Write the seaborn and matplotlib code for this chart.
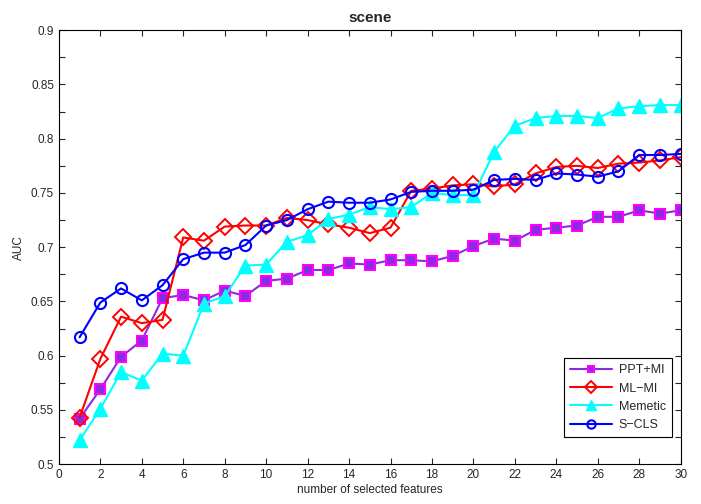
import numpy as np
import pandas as pd
import matplotlib
matplotlib.use("Agg")
import matplotlib.pyplot as plt
from matplotlib.ticker import MultipleLocator
import seaborn as sns

features = list(range(1, 31))
ppt_mi = [0.542, 0.569, 0.599, 0.614, 0.653, 0.656, 0.651, 0.660, 0.655, 0.669,
          0.671, 0.679, 0.679, 0.685, 0.684, 0.688, 0.688, 0.687, 0.692, 0.701,
          0.708, 0.706, 0.716, 0.718, 0.720, 0.728, 0.728, 0.734, 0.731, 0.734]
ml_mi = [0.543, 0.597, 0.636, 0.630, 0.633, 0.709, 0.706, 0.719, 0.720, 0.720,
         0.727, 0.725, 0.721, 0.718, 0.713, 0.718, 0.752, 0.754, 0.757, 0.758,
         0.756, 0.758, 0.768, 0.774, 0.775, 0.773, 0.777, 0.778, 0.780, 0.783]
memetic = [0.522, 0.551, 0.585, 0.577, 0.602, 0.600, 0.648, 0.655, 0.683, 0.684,
           0.705, 0.711, 0.726, 0.730, 0.737, 0.735, 0.737, 0.750, 0.748, 0.748,
           0.788, 0.812, 0.819, 0.821, 0.821, 0.819, 0.828, 0.830, 0.831, 0.831]
s_cls = [0.617, 0.649, 0.662, 0.651, 0.665, 0.689, 0.695, 0.695, 0.702, 0.720,
         0.725, 0.735, 0.742, 0.741, 0.741, 0.744, 0.751, 0.752, 0.752, 0.753,
         0.762, 0.763, 0.762, 0.768, 0.767, 0.765, 0.770, 0.785, 0.785, 0.786]

series_names = ["PPT+MI", "ML\u2212MI", "Memetic", "S\u2212CLS"]
x_ticks = list(range(0, 31, 2))
y_ticks = [0.5, 0.55, 0.6, 0.65, 0.7, 0.75, 0.8, 0.85, 0.9]
y_tick_labels = ["0.5", "0.55", "0.6", "0.65", "0.7", "0.75", "0.8", "0.85", "0.9"]

sns.set_style("ticks")
plt.rcParams["font.family"] = ["Liberation Sans", "DejaVu Sans"]

fig = plt.figure(figsize=(7.01, 5.04), dpi=100)
ax = fig.add_axes([0.084, 0.079, 0.887, 0.861])

styles = [
    dict(color="#8a2be2", marker="s", markersize=6.5, markerfacecolor="#8a2be2",
         markeredgecolor="#ff00ff", markeredgewidth=1.5),
    dict(color="#ff0000", marker="D", markersize=8, markerfacecolor="none",
         markeredgecolor="#ff0000", markeredgewidth=1.4),
    dict(color="#00ffff", marker="^", markersize=10, markerfacecolor="#00ffff",
         markeredgecolor="#00ffff", markeredgewidth=1.0),
    dict(color="#0000ff", marker="o", markersize=8, markerfacecolor="none",
         markeredgecolor="#0000ff", markeredgewidth=1.5),
]

for name, vals, st in zip(series_names, [ppt_mi, ml_mi, memetic, s_cls], styles):
    sns.lineplot(x=features, y=vals, ax=ax, label=name, linewidth=1.5, **st)

ax.set_xlim(0, 30)
ax.set_ylim(0.5, 0.9)
ax.set_xticks(x_ticks)
ax.set_yticks(y_ticks)
ax.set_yticklabels(y_tick_labels)
ax.yaxis.set_minor_locator(MultipleLocator(0.025))
ax.tick_params(which="both", direction="in", top=True, right=True, length=4, width=0.8)
ax.tick_params(which="major", labelsize=8.5)
for sp in ax.spines.values():
    sp.set_visible(True)
    sp.set_color("black")
    sp.set_linewidth(0.8)
ax.grid(False)

ax.set_xlabel("number of selected features", fontsize=8.5, labelpad=2)
ax.set_ylabel("AUC", fontsize=8.5, labelpad=4)
ax.set_title("scene", fontsize=11, fontweight="bold", pad=6)

leg = ax.legend(loc="lower right", bbox_to_anchor=(0.986, 0.062), borderaxespad=0,
                fontsize=9, frameon=True, fancybox=False, framealpha=1,
                edgecolor="black", handlelength=3.4, labelspacing=0.5,
                borderpad=0.5, handletextpad=0.5, markerscale=0.75)
leg.get_frame().set_linewidth(0.8)

fig.savefig("out.png", dpi=100)
